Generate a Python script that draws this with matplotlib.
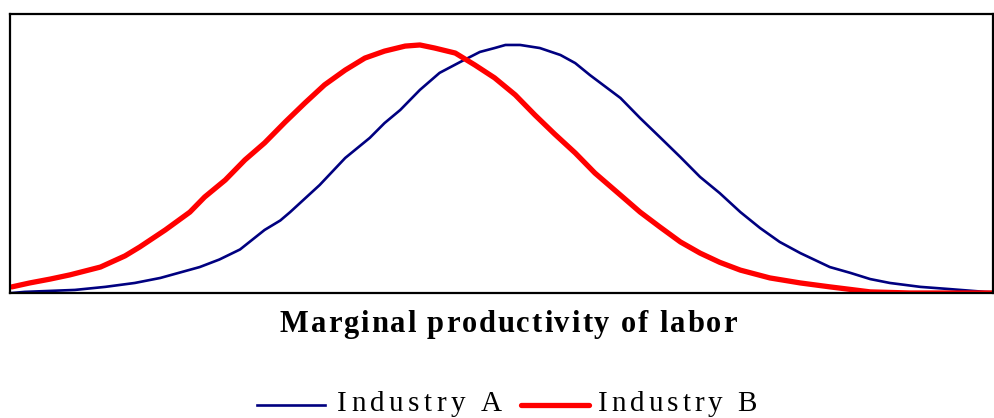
import matplotlib
matplotlib.use("Agg")
import matplotlib.pyplot as plt
from matplotlib import font_manager
from matplotlib.ft2font import FT2Font
from matplotlib.lines import Line2D

# ---- data (arbitrary units, no ticks shown) ----
x_a = [0.2, 1.5, 6.6, 9.7, 12.7, 15.3, 19.3, 21.3, 23.4, 25.9, 27.5, 28.5, 31.5, 34.1, 36.6,
       38.1, 39.7, 41.7, 43.7, 45.8, 47.8, 49.3, 50.4, 51.9, 53.9, 56.0, 57.5, 59.0,
       62.1, 64.1, 66.1, 68.2, 70.2, 72.2, 74.3, 76.3, 78.3, 80.4, 83.4, 85.5, 87.5,
       89.5, 92.6, 95.6, 99.2, 100.0]
y_a = [0.0, 0.4, 1.1, 2.2, 3.6, 5.4, 9.3, 12.0, 15.6, 22.6, 26.0, 29.0, 38.7, 48.4, 55.6,
       60.9, 65.6, 72.8, 78.9, 82.8, 86.4, 87.8, 88.9, 88.9, 87.8, 85.3, 82.4, 78.1,
       69.9, 62.7, 55.9, 48.7, 41.6, 35.8, 29.0, 23.3, 18.3, 14.3, 9.3, 7.2, 5.0,
       3.6, 2.2, 1.4, 0.4, 0.3]

x_b = [0.2, 2.0, 4.1, 6.1, 9.2, 11.7, 13.2, 15.8, 18.3, 19.8, 21.9, 23.9, 25.9, 28.0,
       30.0, 32.0, 34.1, 36.1, 38.1, 40.2, 41.7, 43.2, 45.3, 47.3, 49.3, 51.4, 53.4,
       55.4, 57.5, 59.5, 62.1, 64.1, 66.1, 68.2, 70.2, 72.2, 74.3, 77.3, 80.4, 83.4,
       87.5, 91.6, 100.0]
y_b = [2.2, 3.6, 5.0, 6.5, 9.3, 13.3, 16.5, 22.6, 29.0, 34.4, 40.5, 47.7, 53.8, 61.3,
       68.1, 74.6, 79.9, 84.2, 86.7, 88.5, 88.9, 87.8, 86.0, 81.7, 77.1, 71.0, 63.8,
       57.0, 50.2, 43.0, 35.1, 29.0, 23.7, 18.3, 14.3, 11.0, 8.2, 5.4, 3.6, 2.2,
       0.4, 0.0, 0.0]

series_labels = ["Industry A", "Industry B"]
series_colors = ["#000080", "#FF0000"]
xlabel_text = "Marginal productivity of labor"

# ---- figure ----
W, H, DPI = 995, 418, 100
fig = plt.figure(figsize=(W / DPI, H / DPI), dpi=DPI)
ax = fig.add_axes([10 / W, (H - 293) / H, 983 / W, 279 / H])
ax.plot(x_a, y_a, color=series_colors[0], lw=1.9, solid_joinstyle="round")
ax.plot(x_b, y_b, color=series_colors[1], lw=3.8, solid_capstyle="round",
        solid_joinstyle="round")
ax.set_xlim(0, 100)
ax.set_ylim(0, 100)
ax.set_xticks([])
ax.set_yticks([])
for sp in ax.spines.values():
    sp.set_linewidth(1.6)
    sp.set_color("black")

SERIF = "Liberation Serif"


def char_advances(s, fp, size_pt):
    f = FT2Font(font_manager.findfont(fp))
    f.set_size(size_pt, DPI)
    try:
        from matplotlib.ft2font import LoadFlags
        flags = LoadFlags.NO_HINTING
    except Exception:
        flags = 2
    return [f.load_char(ord(c), flags=flags).linearHoriAdvance / 65536 for c in s]


def spaced_text(s, left_px, right_px, baseline_px, size_pt, weight="normal"):
    fp = font_manager.FontProperties(family=SERIF, weight=weight, size=size_pt)
    adv = char_advances(s, fp, size_pt)
    natural = sum(adv)
    gap = (right_px - left_px - natural) / max(len(s) - 1, 1)
    x = left_px
    for c, a in zip(s, adv):
        if c != " ":
            fig.text(x / W, 1 - baseline_px / H, c, fontproperties=fp,
                     ha="left", va="baseline", color="black")
        x += a + gap


# x-axis label
spaced_text(xlabel_text, 280, 737, 332, 22, weight="bold")

# legend
leg_y = 405
fig.add_artist(Line2D([257 / W, 325 / W], [1 - leg_y / H] * 2,
                      color=series_colors[0], lw=1.9, transform=fig.transFigure))
fig.add_artist(Line2D([521 / W, 589 / W], [1 - leg_y / H] * 2,
                      color=series_colors[1], lw=3.8, solid_capstyle="round",
                      transform=fig.transFigure))
spaced_text(series_labels[0], 337, 502, 411, 21)
spaced_text(series_labels[1], 598, 757, 411, 21)

fig.savefig("out.png", dpi=DPI)
